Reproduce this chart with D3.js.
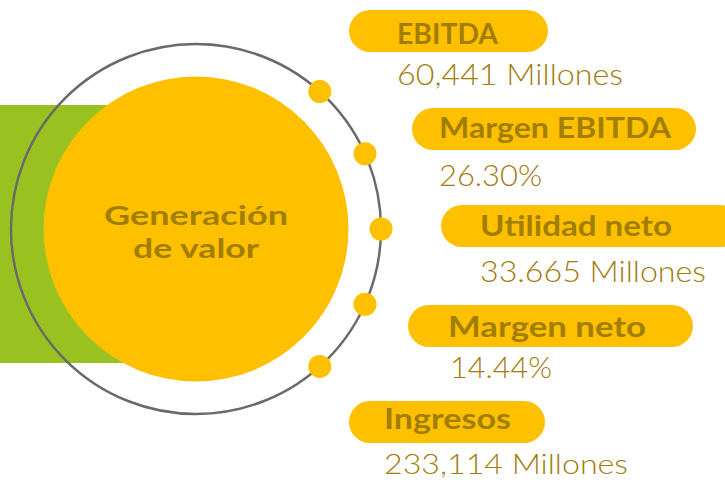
<!DOCTYPE html>
<html><head><meta charset="utf-8">
<script src="https://cdn.jsdelivr.net/npm/d3@7"></script>
<style>html,body{margin:0;padding:0;background:#fff;overflow:hidden}</style>
</head><body>
<script>
// Data
const categories = ["EBITDA", "Margen EBITDA", "Utilidad neto", "Margen neto", "Ingresos"];
const values = ["60,441 Millones", "26.30%", "33.665 Millones", "14.44%", "233,114 Millones"];
const centerTitle = ["Generación", "de valor"];

// Layout (positions/sizes kept separate from data)
const W = 725, H = 480;
const cx = 196, cy = 229, rOuter = 185, rInner = 152.5, rDot = 11.5;
const pills = [
  {x:349, y:10,  w:199, h:42, tx:397, ty:44,  tw:101, vx:397, vy:85,  vw:226, vs:29},
  {x:412, y:108, w:284, h:42, tx:439, ty:138, tw:232, vx:439, vy:186, vw:103, vs:29},
  {x:441, y:205, w:300, h:42, tx:480, ty:236, tw:192, vx:480, vy:282, vw:226, vs:29},
  {x:408, y:305, w:285, h:42, tx:448, ty:337, tw:198, vx:450, vy:378, vw:102, vs:29},
  {x:349, y:401, w:196, h:42, tx:384, ty:429, tw:127, vx:384, vy:474, vw:244, vs:27}
];
const gold = "#FFC000", labelColor = "#A17E00", valueColor = "#A27C0C", green = "#99C221";

const svg = d3.select("body").append("svg").attr("width", W).attr("height", H);

// Green band
svg.append("rect").attr("x", 0).attr("y", 105).attr("width", cx).attr("height", 258).attr("fill", green);

// Outer ring
svg.append("circle").attr("cx", cx).attr("cy", cy).attr("r", rOuter)
  .attr("fill", "none").attr("stroke", "#6A6A6A").attr("stroke-width", 2.5);

// Inner yellow circle
svg.append("circle").attr("cx", cx).attr("cy", cy).attr("r", rInner).attr("fill", gold);

// Center title
const tl = [{y:225, w:184}, {y:258, w:126}];
svg.selectAll("text.center").data(centerTitle).join("text")
  .attr("class", "center")
  .attr("x", cx).attr("y", (d,i) => tl[i].y)
  .attr("text-anchor", "middle")
  .attr("textLength", (d,i) => tl[i].w).attr("lengthAdjust", "spacingAndGlyphs")
  .attr("font-family", "Lato, 'Open Sans', sans-serif").attr("font-weight", 700)
  .attr("font-size", 27).attr("fill", labelColor).text(d => d);

// Dots along ring, placed by angle scale
const angle = d3.scaleLinear().domain([0, categories.length - 1]).range([-48, 48]);
svg.selectAll("circle.dot").data(categories).join("circle")
  .attr("class", "dot")
  .attr("cx", (d,i) => cx + rOuter * Math.cos(angle(i) * Math.PI / 180))
  .attr("cy", (d,i) => cy + rOuter * Math.sin(angle(i) * Math.PI / 180))
  .attr("r", rDot).attr("fill", gold);

// Pills
const g = svg.selectAll("g.item").data(categories).join("g").attr("class", "item");
g.append("rect")
  .attr("x", (d,i) => pills[i].x).attr("y", (d,i) => pills[i].y)
  .attr("width", (d,i) => pills[i].w).attr("height", (d,i) => pills[i].h)
  .attr("rx", 21).attr("ry", 21).attr("fill", gold);
g.append("text")
  .attr("x", (d,i) => pills[i].tx).attr("y", (d,i) => pills[i].ty)
  .attr("textLength", (d,i) => pills[i].tw).attr("lengthAdjust", "spacingAndGlyphs")
  .attr("font-family", "Lato, 'Open Sans', sans-serif").attr("font-weight", 700)
  .attr("font-size", 29).attr("fill", labelColor).text(d => d);
g.append("text")
  .attr("x", (d,i) => pills[i].vx).attr("y", (d,i) => pills[i].vy)
  .attr("textLength", (d,i) => pills[i].vw).attr("lengthAdjust", "spacingAndGlyphs")
  .attr("font-family", "Lato, 'Open Sans', sans-serif").attr("font-weight", 300)
  .attr("font-size", (d,i) => pills[i].vs).attr("fill", valueColor).text((d,i) => values[i]);
</script>
</body></html>
